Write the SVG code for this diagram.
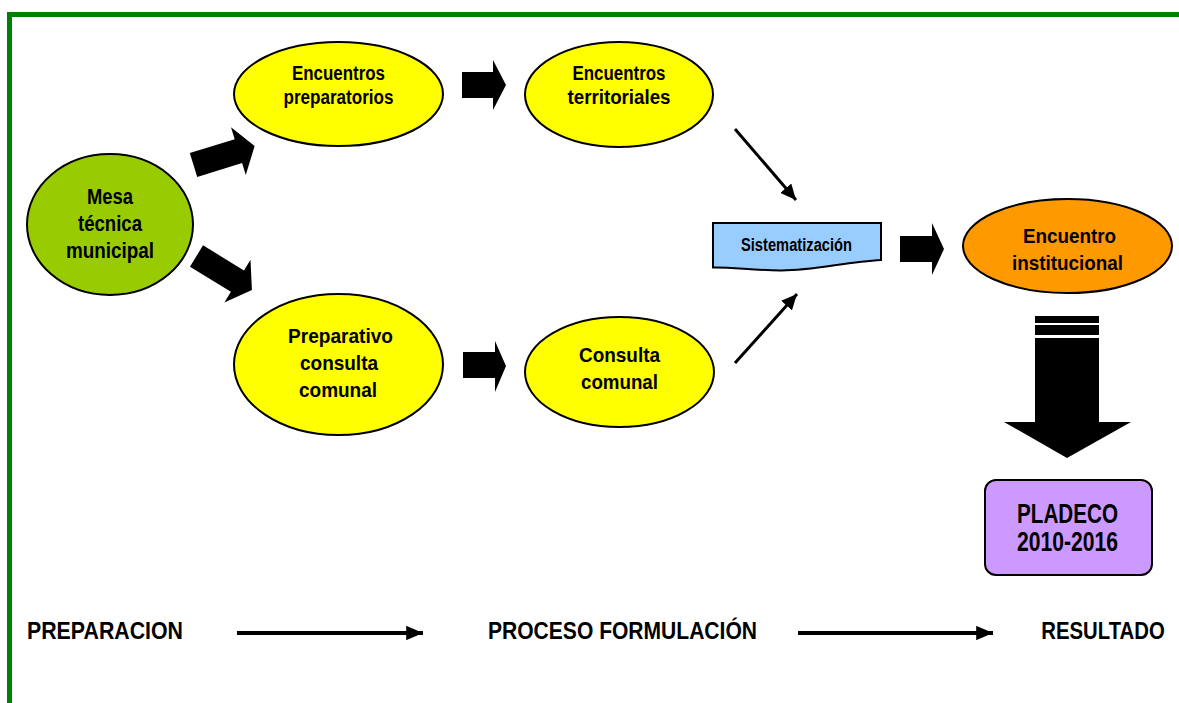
<svg xmlns="http://www.w3.org/2000/svg" width="1179" height="703" viewBox="0 0 1179 703">
<defs>
<marker id="ah" viewBox="0 0 10 10" refX="10" refY="5" markerWidth="5.2" markerHeight="4.8" preserveAspectRatio="none" markerUnits="strokeWidth" orient="auto"><path d="M0,0 L10,5 L0,10 Z" fill="#000"/></marker>
<marker id="ahb" viewBox="0 0 10 10" refX="10" refY="5" markerWidth="4.2" markerHeight="3.6" preserveAspectRatio="none" markerUnits="strokeWidth" orient="auto"><path d="M0,0 L10,5 L0,10 Z" fill="#000"/></marker>
</defs>
<style>
.t{font-family:"Liberation Sans Narrow","Arial Narrow","Liberation Sans",Arial,sans-serif;font-weight:bold;fill:#000;text-anchor:middle}
.n{stroke:#000;stroke-width:2}
.blk{fill:#000}
.thin{stroke:#000;stroke-width:3;fill:none}
.base{stroke:#000;stroke-width:4;fill:none}
</style>
<rect width="1179" height="703" fill="#fff"/>
<path d="M9.5,703 V14.5 H1179" fill="none" stroke="#008000" stroke-width="5"/>

<g id="mesa">
<ellipse class="n" cx="110" cy="224.5" rx="83" ry="70.5" fill="#99cc00"/>
<text class="t" x="110" y="204" font-size="22" textLength="46" lengthAdjust="spacingAndGlyphs">Mesa</text>
<text class="t" x="110" y="231" font-size="22" textLength="64" lengthAdjust="spacingAndGlyphs">técnica</text>
<text class="t" x="110" y="258" font-size="22" textLength="88" lengthAdjust="spacingAndGlyphs">municipal</text>
</g>

<g id="enc-prep">
<ellipse class="n" cx="338.5" cy="94" rx="104.5" ry="52" fill="#ffff00"/>
<text class="t" x="338.5" y="80" font-size="19.5" textLength="93" lengthAdjust="spacingAndGlyphs">Encuentros</text>
<text class="t" x="338.5" y="104" font-size="19.5" textLength="110" lengthAdjust="spacingAndGlyphs">preparatorios</text>
</g>

<g id="enc-terr">
<ellipse class="n" cx="619" cy="94.5" rx="94" ry="52.5" fill="#ffff00"/>
<text class="t" x="619" y="80" font-size="19.5" textLength="93" lengthAdjust="spacingAndGlyphs">Encuentros</text>
<text class="t" x="619" y="104" font-size="19.5" textLength="103" lengthAdjust="spacingAndGlyphs">territoriales</text>
</g>

<g id="prep-consulta">
<ellipse class="n" cx="338.5" cy="364.5" rx="104.5" ry="70.5" fill="#ffff00"/>
<text class="t" x="340.5" y="343" font-size="20.5" textLength="105" lengthAdjust="spacingAndGlyphs">Preparativo</text>
<text class="t" x="339" y="370" font-size="20.5" textLength="78" lengthAdjust="spacingAndGlyphs">consulta</text>
<text class="t" x="338" y="397" font-size="20.5" textLength="78" lengthAdjust="spacingAndGlyphs">comunal</text>
</g>

<g id="consulta">
<ellipse class="n" cx="619.5" cy="372" rx="94.5" ry="55" fill="#ffff00"/>
<text class="t" x="619.5" y="362" font-size="21" textLength="81" lengthAdjust="spacingAndGlyphs">Consulta</text>
<text class="t" x="619.5" y="389" font-size="21" textLength="77" lengthAdjust="spacingAndGlyphs">comunal</text>
</g>

<g id="sistematizacion">
<path class="n" d="M713,223 H881 V260 C845,262 812,271 780,270.5 C752,270 730,267 713,267.5 Z" fill="#99ccff"/>
<text class="t" x="796.5" y="251" font-size="17.5" textLength="111" lengthAdjust="spacingAndGlyphs">Sistematización</text>
</g>

<g id="enc-inst">
<ellipse class="n" cx="1067.5" cy="246" rx="104.5" ry="47" fill="#ff9900"/>
<text class="t" x="1069.5" y="243" font-size="21" textLength="93" lengthAdjust="spacingAndGlyphs">Encuentro</text>
<text class="t" x="1067.5" y="270" font-size="21" textLength="111" lengthAdjust="spacingAndGlyphs">institucional</text>
</g>

<g id="pladeco">
<rect class="n" x="985" y="480" width="167" height="95" rx="11" fill="#cc99ff"/>
<text class="t" x="1067.5" y="523" font-size="27" textLength="101" lengthAdjust="spacingAndGlyphs">PLADECO</text>
<text class="t" x="1067.5" y="551" font-size="27" textLength="101" lengthAdjust="spacingAndGlyphs">2010-2016</text>
</g>

<g id="labels">
<text class="t" x="105" y="639" font-size="24.5" textLength="156" lengthAdjust="spacingAndGlyphs">PREPARACION</text>
<text class="t" x="622.5" y="639" font-size="24.5" textLength="269" lengthAdjust="spacingAndGlyphs">PROCESO FORMULACIÓN</text>
<text class="t" transform="translate(1103,639) scale(0.83,1)" x="0" y="0" font-size="24.5">RESULTADO</text>
</g>

<g id="connectors">
<polygon class="blk" transform="translate(193.5,165) rotate(-17.2)" points="0,-12.5 47,-12.5 47,-25 64,0 47,25 47,12.5 0,12.5"/>
<polygon class="blk" transform="translate(196.5,256) rotate(31.5)" points="0,-12.5 48,-12.5 48,-25 65,0 48,25 48,12.5 0,12.5"/>
<polygon class="blk" points="462,72 493,72 493,60 506,85 493,110 493,98 462,98"/>
<polygon class="blk" points="463,352 495,352 495,341 506,366 495,392 495,378 463,378"/>
<polygon class="blk" points="900,236 932,236 932,223 944,249 932,275 932,262 900,262"/>
<rect class="blk" x="1035" y="316" width="64" height="7"/>
<rect class="blk" x="1035" y="325" width="64" height="10"/>
<polygon class="blk" points="1035,338 1099,338 1099,422 1131,422 1067,458 1004,422 1035,422"/>
<line class="thin" x1="735" y1="129" x2="796" y2="200" marker-end="url(#ah)"/>
<line class="thin" x1="735" y1="363" x2="797" y2="294" marker-end="url(#ah)"/>
<line class="base" x1="237" y1="633" x2="423" y2="633" marker-end="url(#ahb)"/>
<line class="base" x1="798" y1="633" x2="993" y2="633" marker-end="url(#ahb)"/>
</g>
</svg>
